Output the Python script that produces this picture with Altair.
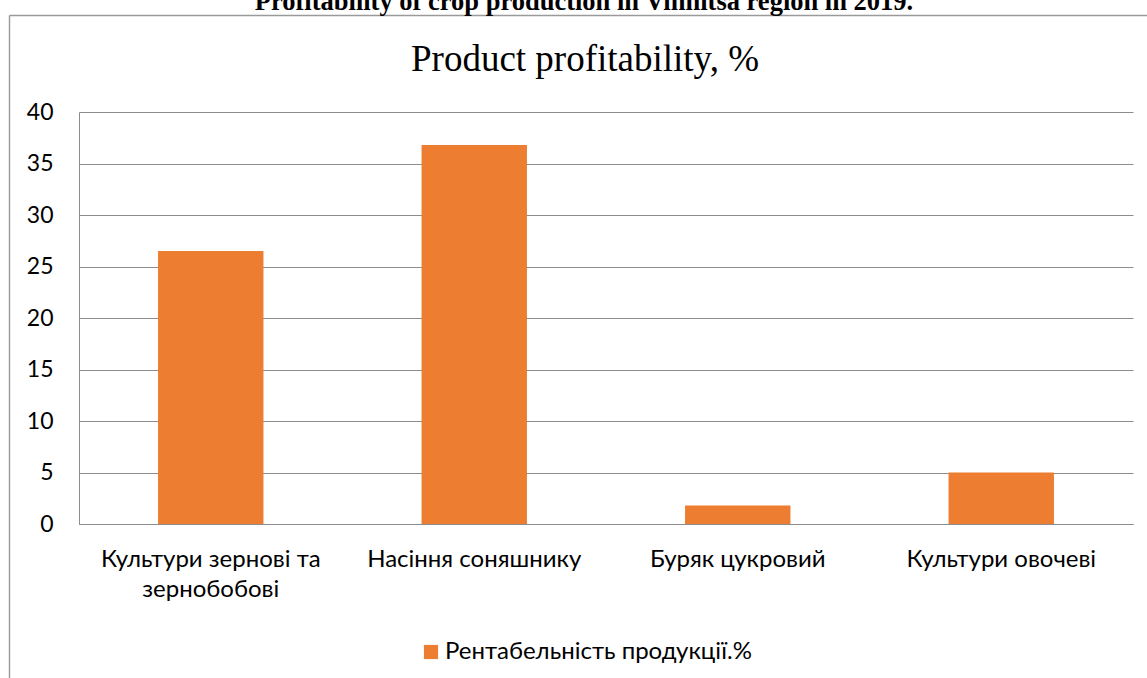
import altair as alt
import pandas as pd

# ---- data ----
categories = [
    "Культури зернові та зернобобові",
    "Насіння соняшнику",
    "Буряк цукровий",
    "Культури овочеві",
]
values = [26.5, 36.8, 1.8, 5.0]
series_name = "Рентабельність продукції.%"
y_ticks = [0, 5, 10, 15, 20, 25, 30, 35, 40]
chart_title = "Product profitability, %"
page_title = "Profitability of crop production in Vinnitsa region in 2019."
wrapped = {"Культури зернові та зернобобові": ["Культури зернові та", "зернобобові"]}

df = pd.DataFrame({"category": categories, "value": values, "series": [series_name] * len(categories)})

label_expr = "datum.value"
for k, lines in wrapped.items():
    arr = "[" + ",".join("'" + s + "'" for s in lines) + "]"
    label_expr = f"datum.value == '{k}' ? {arr} : ({label_expr})"

GRID = "#8c8c8c"
FRAME = "#9a9a9a"
ORANGE = "#ED7D31"

# plot area geometry (pixels in page)
L, T, R, B = 79, 112, 1133, 524
W, H = R - L, B - T

bars = alt.Chart(df).mark_bar().encode(
    x=alt.X(
        "category:N",
        sort=categories,
        scale=alt.Scale(paddingInner=0.6, paddingOuter=0.3),
        axis=alt.Axis(
            title=None, labelAngle=0, labelExpr=label_expr, labelFont="Lato",
            labelFontSize=24, labelColor="black", labelPadding=42, labelLineHeight=30,
            labelBaseline="alphabetic", ticks=False, tickSize=0, domainColor=GRID,
            domainWidth=1, labelLimit=0,
        ),
    ),
    y=alt.Y(
        "value:Q",
        scale=alt.Scale(domain=[0, 40], nice=False),
        axis=alt.Axis(
            title=None, values=y_ticks, gridColor=GRID, gridWidth=1, domainColor=GRID,
            ticks=False, tickSize=0, labelPadding=26, labelFont="Lato", labelFontSize=23,
            labelColor="black",
        ),
    ),
    color=alt.Color(
        "series:N",
        scale=alt.Scale(range=[ORANGE]),
        legend=alt.Legend(
            title=None, orient="none", legendX=340, legendY=528, symbolType="square",
            symbolSize=200, symbolStrokeWidth=0, labelFont="Lato", labelFontSize=24,
            labelColor="black", labelOffset=2, padding=0, labelLimit=0,
        ),
    ),
)

one = pd.DataFrame({"t": [chart_title]})
title_mark = alt.Chart(one).mark_text(
    font="Liberation Serif", fontSize=37, color="black", baseline="alphabetic", align="center"
).encode(x=alt.value(585 - L), y=alt.value(71 - T), text="t:N")

one2 = pd.DataFrame({"t": [page_title]})
page_mark = alt.Chart(one2).mark_text(
    font="Liberation Serif", fontSize=26.5, fontWeight="bold", color="black",
    baseline="alphabetic", align="center"
).encode(x=alt.value(584 - L), y=alt.value(10 - T), text="t:N")

frame_df = pd.DataFrame({"k": [0]})
frame_v = alt.Chart(frame_df).mark_rule(color=FRAME, strokeWidth=1.4).encode(
    x=alt.value(9.5 - L), y=alt.value(15.5 - T), y2=alt.value(700 - T)
)
frame_h = alt.Chart(frame_df).mark_rule(color=FRAME, strokeWidth=1.4).encode(
    x=alt.value(9.5 - L), x2=alt.value(1160 - L), y=alt.value(15.5 - T)
)

chart = alt.layer(frame_v, frame_h, page_mark, title_mark, bars).properties(
    width=W, height=H,
    padding={"left": L, "top": T, "right": 1147 - R, "bottom": 678 - B},
    autosize=alt.AutoSizeParams(type="none"),
    background="white",
).configure_view(stroke=None)

chart.save("out.html", embed_options={"renderer": "svg", "actions": False})
